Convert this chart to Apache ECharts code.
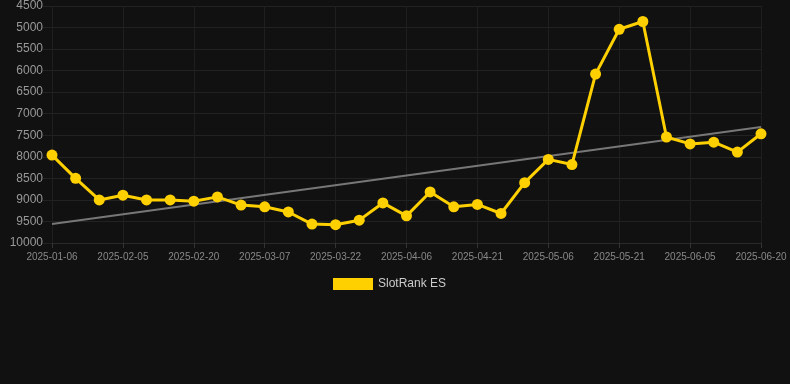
<!DOCTYPE html>
<html>
<head>
<meta charset="utf-8">
<script src="https://cdn.jsdelivr.net/npm/echarts@6/dist/echarts.min.js"></script>
<style>html,body{margin:0;padding:0;background:#111111;}#c{width:790px;height:384px;}</style>
</head>
<body>
<div id="c"></div>
<script>
const categories = ['2025-01-06','2025-01-16','2025-01-26','2025-02-05','2025-02-10','2025-02-15','2025-02-20','2025-02-25','2025-03-02','2025-03-07','2025-03-12','2025-03-17','2025-03-22','2025-03-27','2025-04-01','2025-04-06','2025-04-11','2025-04-16','2025-04-21','2025-04-26','2025-05-01','2025-05-06','2025-05-11','2025-05-16','2025-05-21','2025-05-26','2025-05-31','2025-06-05','2025-06-10','2025-06-15','2025-06-20'];
const rankValues = [7960,8500,9000,8890,9000,9000,9030,8930,9120,9160,9280,9560,9575,9470,9070,9370,8815,9160,9105,9315,8600,8060,8180,6080,5040,4860,7540,7700,7660,7890,7465];
const trendStart = 9560;
const trendEnd = 7310;
const yTicks = {min: 4500, max: 10000, interval: 500};

const trendData = categories.map((c, i) => i === 0 ? trendStart : (i === categories.length - 1 ? trendEnd : null));

const chart = echarts.init(document.getElementById('c'));
chart.setOption({
  backgroundColor: '#111111',
  animation: false,
  grid: {left: 52, right: 29, top: 5, bottom: 141, containLabel: false},
  legend: {
    data: ['SlotRank ES'],
    top: 273,
    left: 328,
    itemWidth: 40,
    itemHeight: 12,
    icon: 'rect',
    textStyle: {color: '#cccccc', fontSize: 12, fontFamily: 'Arial, Liberation Sans, sans-serif'}
  },
  xAxis: {
    type: 'category',
    data: categories,
    boundaryGap: false,
    axisLine: {show: true, lineStyle: {color: '#2a2a2a'}},
    axisTick: {show: true, interval: 2, lineStyle: {color: '#333'}},
    axisLabel: {interval: 2, color: '#888888', fontSize: 10, margin: 9, fontFamily: 'Arial, Liberation Sans, sans-serif'},
    splitLine: {show: true, interval: 2, lineStyle: {color: '#1f1f1f'}}
  },
  yAxis: {
    type: 'value',
    inverse: true,
    min: yTicks.min,
    max: yTicks.max,
    interval: yTicks.interval,
    axisLine: {show: false},
    axisTick: {show: true, length: 9, lineStyle: {color: '#222222'}},
    axisLabel: {color: '#999999', fontSize: 12, margin: 9, formatter: v => String(v), fontFamily: 'Arial, Liberation Sans, sans-serif'},
    splitLine: {show: true, lineStyle: {color: '#222222'}}
  },
  series: [
    {
      name: 'Trend',
      type: 'line',
      data: trendData,
      connectNulls: true,
      symbol: 'none',
      lineStyle: {color: '#777777', width: 2},
      itemStyle: {color: '#777777'},
      z: 1,
      silent: true
    },
    {
      name: 'SlotRank ES',
      type: 'line',
      data: rankValues,
      symbol: 'circle',
      symbolSize: 11,
      lineStyle: {color: '#FFD000', width: 3},
      itemStyle: {color: '#FFD000'},
      z: 2
    }
  ]
});
</script>
</body>
</html>
